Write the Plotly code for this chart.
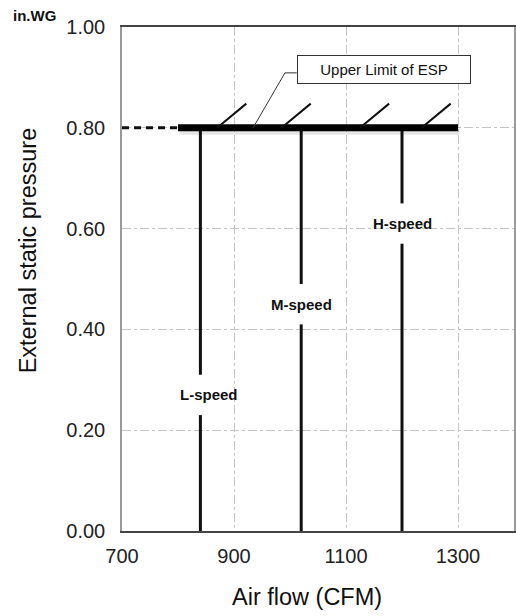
import plotly.graph_objects as go

# Fan speed taps: airflow at each speed and where its label sits on the line
speed_names = ["L-speed", "M-speed", "H-speed"]
speed_cfm = [840, 1020, 1200]
label_cfm = [855, 1020, 1200]
label_pressure = [0.27, 0.45, 0.61]

# Upper limit of external static pressure
esp_limit = 0.80
esp_cfm = [800, 1300]
esp_lead_cfm = [700, 800]
hatch_cfm = [870, 985, 1125, 1235]

# Callout for the limit line
callout_text = "Upper Limit of ESP"
callout_x = [934, 991, 1012]
callout_y = [0.80, 0.909, 0.909]
callout_box_x = 1168
callout_box_y = 0.915

x_ticks = [700, 900, 1100, 1300]
y_ticks = [0.0, 0.2, 0.4, 0.6, 0.8, 1.0]

FONT = "Liberation Sans, Arial, sans-serif"
GAP = 0.04          # half-height of the break around each speed label
HATCH_DX, HATCH_DY = 52, 0.048

fig = go.Figure()

# vertical speed lines, broken where the label sits
for cfm, yc in zip(speed_cfm, label_pressure):
    fig.add_trace(go.Scatter(
        x=[cfm, cfm, None, cfm, cfm],
        y=[0, yc - GAP, None, yc + GAP, esp_limit],
        mode="lines", line=dict(color="#111", width=3),
        hoverinfo="skip", showlegend=False))

# soft shadow under the limit bar
fig.add_trace(go.Scatter(
    x=[esp_cfm[0] + 3, esp_cfm[1] + 3], y=[esp_limit - 0.005, esp_limit - 0.005],
    mode="lines", line=dict(color="rgba(0,0,0,0.10)", width=9),
    hoverinfo="skip", showlegend=False))

# dashed lead-in to the limit bar
fig.add_trace(go.Scatter(
    x=esp_lead_cfm, y=[esp_limit, esp_limit], mode="lines",
    line=dict(color="#111", width=3, dash="7px,5px"),
    hoverinfo="skip", showlegend=False))

# limit bar
fig.add_trace(go.Scatter(
    x=esp_cfm, y=[esp_limit, esp_limit], mode="lines",
    line=dict(color="#000", width=7),
    hoverinfo="skip", showlegend=False))

# hatch marks above the bar
hx, hy = [], []
for c in hatch_cfm:
    hx += [c, c + HATCH_DX, None]
    hy += [esp_limit, esp_limit + HATCH_DY, None]
fig.add_trace(go.Scatter(
    x=hx, y=hy, mode="lines", line=dict(color="#111", width=2),
    hoverinfo="skip", showlegend=False))

# callout leader
fig.add_trace(go.Scatter(
    x=callout_x, y=callout_y, mode="lines", line=dict(color="#333", width=1),
    hoverinfo="skip", showlegend=False))

txt = dict(showarrow=False, xanchor="center", yanchor="middle")
annotations = [
    dict(x=callout_box_x, y=callout_box_y, xref="x", yref="y", text=callout_text,
         font=dict(family=FONT, size=15, color="#111"),
         bgcolor="white", bordercolor="#333", borderwidth=1, borderpad=3,
         width=166, height=21, **txt),
    dict(x=-0.222, y=1.022, xref="paper", yref="paper", text="<b>in.WG</b>",
         font=dict(family=FONT, size=15, color="#111"), **txt),
    dict(x=-0.239, y=0.5575, xref="paper", yref="paper",
         text="External static pressure", textangle=-90,
         font=dict(family=FONT, size=23.5, color="#111"), **txt),
    dict(x=0.472, y=-0.131, xref="paper", yref="paper", text="Air flow (CFM)",
         font=dict(family=FONT, size=23.5, color="#111"), **txt),
]
for name, lx, ly in zip(speed_names, label_cfm, label_pressure):
    annotations.append(dict(x=lx, y=ly, xref="x", yref="y", text=f"<b>{name}</b>",
                            font=dict(family=FONT, size=15, color="#111"), **txt))

grid = dict(showgrid=True, gridcolor="#c4c4c4", gridwidth=1, griddash="dashdot")

fig.update_layout(
    width=516, height=616,
    margin=dict(l=122, r=0, t=27, b=85),
    plot_bgcolor="white", paper_bgcolor="white",
    font=dict(family=FONT, size=20, color="#222"),
    annotations=annotations,
    xaxis=dict(range=[700, 1400], tickvals=x_ticks, ticks="",
               ticklabelstandoff=6, showline=True, linecolor="#444", linewidth=1.5,
               mirror=True, zeroline=False, **grid),
    yaxis=dict(range=[0, 1.0], tickvals=y_ticks, tickformat=".2f", ticks="",
               ticklabelstandoff=11, showline=True, linecolor="#999", linewidth=1.5,
               mirror=True, zeroline=False, **grid),
)

fig.write_html("out.html")
